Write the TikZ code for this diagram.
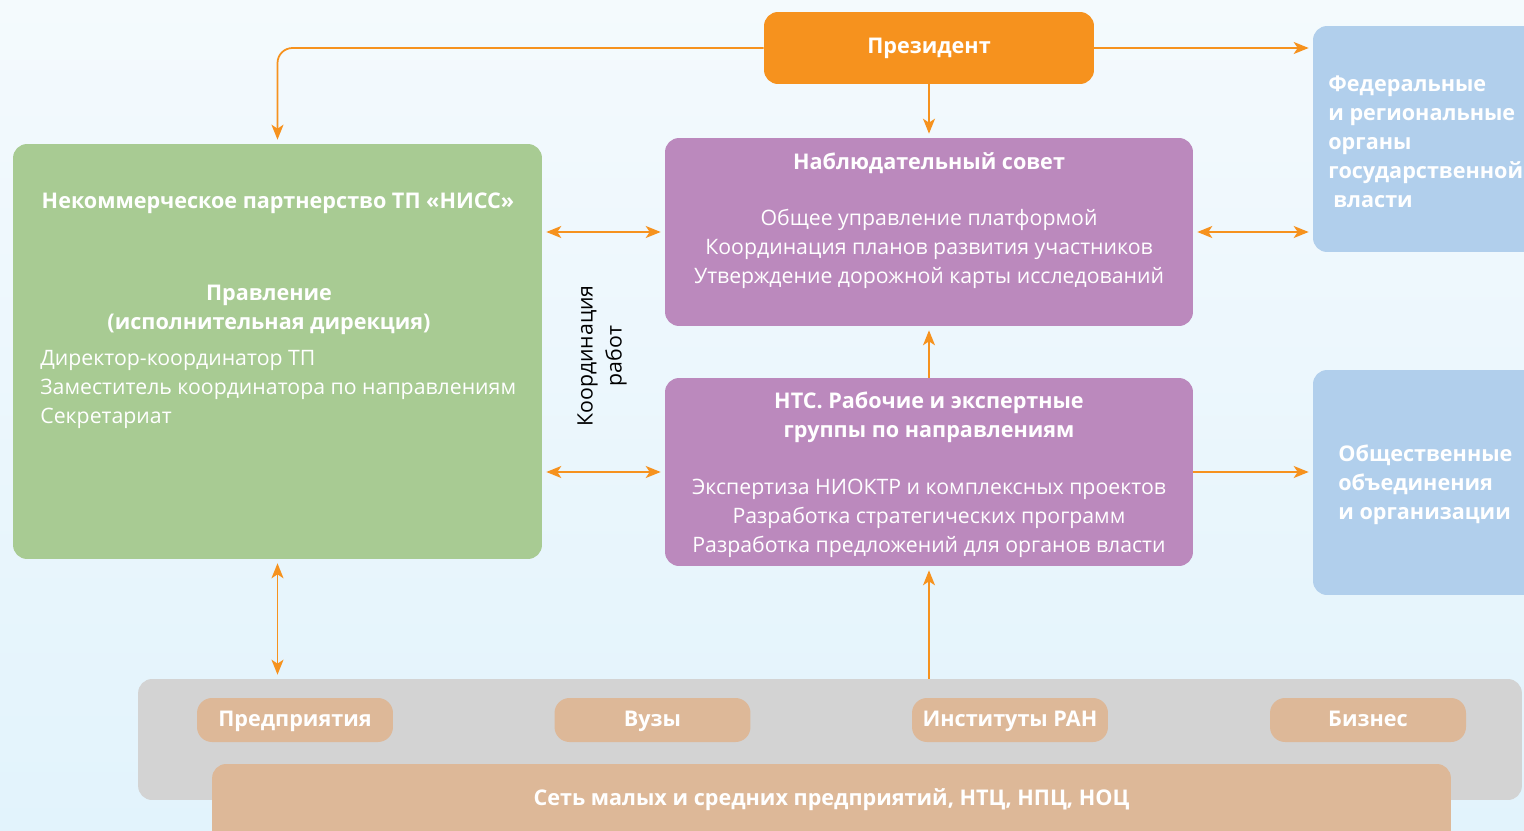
\documentclass[tikz,border=0pt]{standalone}
\usepackage{fontspec}
\setmainfont{Open Sans}
\usepackage{tikz}
\usetikzlibrary{positioning}
\usetikzlibrary{arrows.meta}
\pgfdeclarelayer{nodelayer}
\pgfdeclarelayer{edgelayer}
\pgfsetlayers{nodelayer,edgelayer,main}
\definecolor{nissorange}{HTML}{F6921E}
\definecolor{nissgreen}{HTML}{A8CB93}
\definecolor{nisspurple}{HTML}{BB89BD}
\definecolor{nissblue}{HTML}{B1CFEC}
\definecolor{nissgrey}{HTML}{D3D3D3}
\definecolor{nisstan}{HTML}{DDB898}
\definecolor{bgtop}{HTML}{F4FAFD}
\definecolor{bgbottom}{HTML}{E2F3FC}
\tikzset{
    none/.style = {inner sep=0pt},
    box/.style = {rounded corners=0.28cm, inner sep=0pt},
    plain/.style = {text=white, align=center, font=\fontsize{12.1}{16.5}\selectfont},
    head/.style = {text=white, align=center, font=\bfseries\fontsize{12.3}{16.5}\selectfont},
    oneline/.style = {text height=0.32cm, text depth=0.08cm},
    tip/.tip = {Stealth[length=0.3cm, width=0.24cm, inset=0.08cm]},
    link/.style = {draw=nissorange, line width=0.035cm, shorten >=0.08cm, -tip},
    twoway/.style = {link, shorten <=0.08cm, tip-tip}
}

\begin{document}
\begin{tikzpicture}[x=0.02cm, y=-0.02cm]
    \useasboundingbox (0, 0) rectangle (1524, 831);
    \begin{pgfonlayer}{nodelayer}
        \shade [top color=bgtop, bottom color=bgbottom] (0, 0) rectangle (1524, 831);
        \node [box, fill=nissorange, minimum width=6.6cm, minimum height=1.44cm, head, oneline] (0) at (929, 48) {Президент};
        \node [box, fill=nissgreen, minimum width=10.58cm, minimum height=8.3cm] (1) at (277.5, 351.5) {};
        \node [box, fill=nisspurple, minimum width=10.56cm, minimum height=3.76cm] (2) at (929, 232) {};
        \node [box, fill=nisspurple, minimum width=10.56cm, minimum height=3.76cm] (3) at (929, 472) {};
        \node [box, fill=nissblue, minimum width=4.94cm, minimum height=4.52cm] (4) at (1436.5, 139) {};
        \node [box, fill=nissblue, minimum width=4.94cm, minimum height=4.5cm] (5) at (1436.5, 482.5) {};
        \node [box, fill=nissgrey, minimum width=27.68cm, minimum height=2.42cm] (6) at (830, 739.5) {};
        \node [box, rounded corners=0.3cm, fill=nisstan, minimum width=3.92cm, minimum height=0.88cm, head, oneline] (7) at (295, 720) {Предприятия};
        \node [box, rounded corners=0.3cm, fill=nisstan, minimum width=3.92cm, minimum height=0.88cm, head, oneline] (8) at (652.5, 720) {Вузы};
        \node [box, rounded corners=0.3cm, fill=nisstan, minimum width=3.92cm, minimum height=0.88cm, head, oneline] (9) at (1010, 720) {Институты РАН};
        \node [box, rounded corners=0.3cm, fill=nisstan, minimum width=3.92cm, minimum height=0.88cm, head, oneline] (10) at (1368, 720) {Бизнес};
        \node [box, fill=nisstan, minimum width=24.78cm, minimum height=1.6cm] (11) at (831.5, 804) {};
        \node [style=none, head, oneline] (12) at (831.5, 799) {Сеть малых и средних предприятий, НТЦ, НПЦ, НОЦ};
        \node [style=none, head] (13) at (278, 203) {Некоммерческое партнерство ТП «НИСС»};
        \node [style=none, head] (14) at (269, 310) {Правление\\(исполнительная дирекция)};
        \node [style=none, plain, align=left, anchor=west] (15) at (40, 389) {Директор-координатор ТП\\Заместитель координатора по направлениям\\Секретариат};
        \node [style=none, head] (16) at (929, 163) {Наблюдательный совет};
        \node [style=none, plain] (17) at (929, 249) {Общее управление платформой\\Координация планов развития участников\\Утверждение дорожной карты исследований};
        \node [style=none, head] (18) at (929, 417) {НТС. Рабочие и экспертные\\группы по направлениям};
        \node [style=none, plain] (19) at (929, 518) {Экспертиза НИОКТР и комплексных проектов\\Разработка стратегических программ\\Разработка предложений для органов власти};
        \node [style=none, head, align=left, anchor=west] (20) at (1328, 142) {Федеральные\\и региональные\\органы\\государственной\\\hspace*{0.1cm}власти};
        \node [style=none, head, align=left, anchor=west] (21) at (1338, 485) {Общественные\\объединения\\и организации};
        \node [style=none, plain, text=black, rotate=90] (22) at (602, 356) {Координация\\работ};
    \end{pgfonlayer}
    \begin{pgfonlayer}{edgelayer}
        % President to the partnership, round the top
        \draw [link, rounded corners=0.3cm] (0.west) -| (1.north);
        \draw [link] (0.east) to (0.east -| 4.west);
        \draw [link] (0.south) to (2.north);
        \draw [twoway] (2.west -| 1.east) to (2.west);
        \draw [twoway] (2.east) to (2.east -| 4.west);
        \draw [link] (3.north) to (2.south);
        \draw [twoway] (3.west -| 1.east) to (3.west);
        \draw [link] (3.east) to (3.east -| 5.west);
        \draw [twoway] (1.south) to (1.south |- 6.north);
        \draw [link] (3.south |- 6.north) to (3.south);
    \end{pgfonlayer}
\end{tikzpicture}
\end{document}
